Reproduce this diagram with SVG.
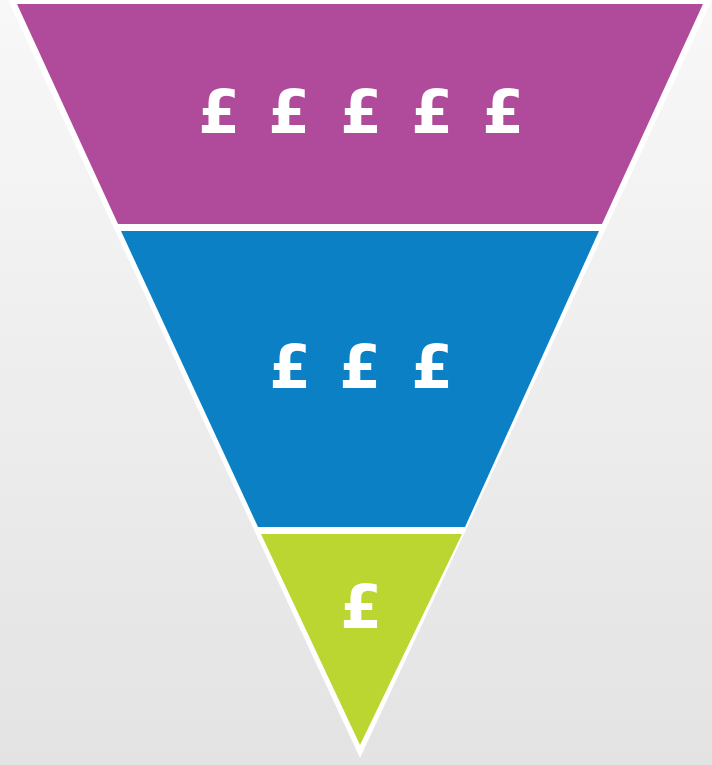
<svg xmlns="http://www.w3.org/2000/svg" width="712" height="765" viewBox="0 0 712 765">
  <defs>
    <linearGradient id="bg" x1="0" y1="0" x2="0" y2="1">
      <stop offset="0" stop-color="#f8f8f8"/>
      <stop offset="1" stop-color="#e3e3e3"/>
    </linearGradient>
  </defs>
  <style>
    .pound { font-family: "DejaVu Sans", "Liberation Sans", sans-serif; font-weight: bold; font-size: 60px; fill: #ffffff; text-anchor: middle; }
  </style>
  <rect width="712" height="765" fill="url(#bg)"/>
  <g id="outline">
    <polygon points="8,0 712,0 360,758" fill="#ffffff"/>
  </g>
  <g id="top">
    <polygon points="17,4 703,4 602,224 118,224" fill="#B04A9A"/>
    <text class="pound" y="133"><tspan x="219">£</tspan><tspan x="289">£</tspan><tspan x="361">£</tspan><tspan x="432">£</tspan><tspan x="503">£</tspan></text>
  </g>
  <g id="middle">
    <polygon points="121,231 599,231 465,527 258,527" fill="#0B80C4"/>
    <text class="pound" y="388"><tspan x="290">£</tspan><tspan x="360">£</tspan><tspan x="432">£</tspan></text>
  </g>
  <g id="bottom">
    <polygon points="261,534 462,534 360,745" fill="#BBD531"/>
    <text class="pound" x="361" y="628">£</text>
  </g>
</svg>
